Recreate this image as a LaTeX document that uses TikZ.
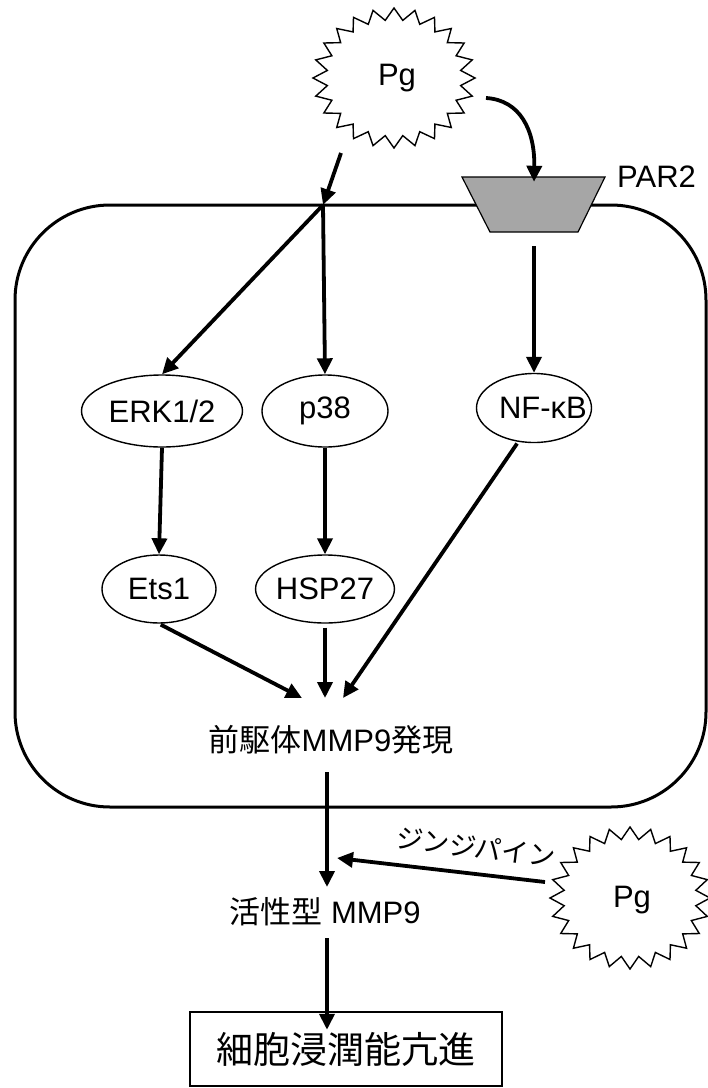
\documentclass[tikz,border=0pt]{standalone}
\usepackage{fontspec}
\setmainfont{Liberation Sans}
\newfontfamily\jp{Noto Sans CJK JP}
\usetikzlibrary{arrows.meta,shapes.geometric}
\definecolor{recgray}{RGB}{166,166,166}

% jagged "burst" outline (24 spikes): centre x, centre y, radius x, radius y
\newcommand\drawburst[4]{%
  \draw[burstline] plot[variable=\k, samples at={0,...,47}]
    ({#1+#3*(1-0.17*mod(\k,2))*cos(\k*7.5)},
     {#2+#4*(1-0.17*mod(\k,2))*sin(\k*7.5)}) -- cycle;}

\tikzset{
  lbl/.style={font=\fontsize{31}{36}\selectfont, inner sep=0pt},
  oval/.style={ellipse, draw, line width=1.4pt, inner sep=0pt, font=\fontsize{31}{36}\selectfont},
  arr/.style={line width=3.8pt, -{Triangle[length=16pt,width=15pt]}},
  burstline/.style={line width=1.4pt, line join=miter},
  cellbox/.style={draw, line width=3pt, rounded corners=95pt, inner sep=0pt},
  recep/.style={draw, line width=1.2pt, fill=recgray, line join=miter},
  outbox/.style={draw, line width=2.5pt, inner sep=0pt}
}

\begin{document}
\begin{tikzpicture}[x=1pt,y=-1pt]
\useasboundingbox (0,0) rectangle (708,1088);

% cell outline
\node[cellbox, minimum width=691pt, minimum height=602pt] (cell) at (360.5,506) {};

% receptor in the membrane
\draw[recep] (462,177) -- (605,177) -- (578,232) -- (490,232) -- cycle;
\node[minimum width=88pt, minimum height=55pt, inner sep=0pt] (par2) at (534,204.5) {};
\node[lbl, anchor=west] (par2lbl) at (617,177) {PAR2};

% bacteria
\drawburst{394}{78}{81}{70}
\node[lbl] (pgtop) at (397,78) {Pg};
\drawburst{630}{898}{80}{71}
\node[lbl] (pgbot) at (632,900) {Pg};

% signalling molecules
\node[oval, minimum width=161pt, minimum height=72pt] (erk) at (162,411) {ERK1/2};
\node[oval, minimum width=126pt, minimum height=72pt] (p38) at (325,411) {p38};
\node[oval, minimum width=115pt, minimum height=69pt] (nfkb) at (534,408) {};
\node[lbl] (nfkbtxt) at (543,408) {NF-κB};
\node[oval, minimum width=114pt, minimum height=68pt] (ets) at (159,589) {Ets1};
\node[oval, minimum width=135pt, minimum height=68pt] (hsp) at (325,589) {HSP27};

% outcomes
\node[lbl] (pro) at (331,740) {{\jp 前駆体}MMP9{\jp 発現}};
\node[lbl] (act) at (325,912) {{\jp 活性型} MMP9};
\node[outbox, minimum width=312pt, minimum height=74pt,
      font=\fontsize{37}{42}\selectfont\jp] (inv) at (346,1049) {細胞浸潤能亢進};

% connector end points
\coordinate (pgout) at (341,153);
\coordinate (junc) at (323,205);
\coordinate (pgcurve) at (486,98);
\coordinate (in1) at (302,698);
\coordinate (in2) at (325,698);
\coordinate (in3) at (343,698);
\coordinate (proout) at (327,772);
\coordinate (actin) at (327,887);
\coordinate (gingi) at (545,882);
\coordinate (gingitip) at (337,858);
\coordinate (actout) at (327,938);

% connectors
\draw[arr] (pgout) -- (junc);
\draw[arr] (junc) -- (erk.north);
\draw[arr] (junc) -- (p38.north);
\draw[arr] (pgcurve) .. controls (520,100) and (535,130) .. ([yshift=-5pt]par2.north);
\draw[arr, shorten <=14pt] (par2.south) -- (nfkb.north);
\draw[arr] (erk.south) -- (ets.north);
\draw[arr] (p38.south) -- (hsp.north);
\draw[arr, shorten <=2pt] (ets.south) -- (in1);
\draw[arr, shorten <=4pt] (hsp.south) -- (in2);
\draw[arr, shorten <=2pt] (nfkb.-115) -- (in3);
\draw[arr] (proout) -- (actin);
\draw[arr] (gingi) -- (gingitip);
\node[font=\fontsize{27}{30}\selectfont\jp, inner sep=0pt, rotate=-7] (gingilbl) at (476,847) {ジンジパイン};
\draw[arr] (actout) -- ([yshift=-19pt]inv.north -| actout);
\end{tikzpicture}
\end{document}
